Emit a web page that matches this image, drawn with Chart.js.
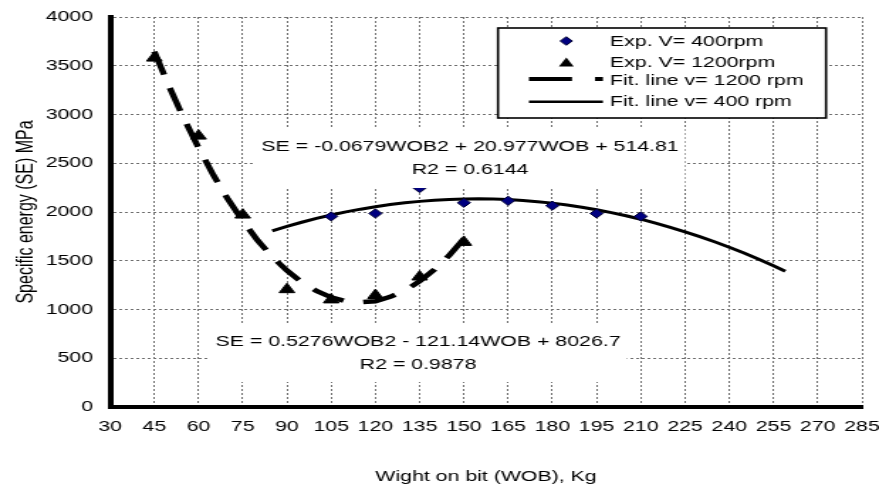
<!DOCTYPE html>
<html>
<head>
<meta charset="utf-8">
<script src="https://cdn.jsdelivr.net/npm/chart.js@4/dist/chart.umd.min.js"></script>
<style>
  html, body { margin: 0; padding: 0; background: #fff; overflow: hidden; }
  /* the chart is laid out narrow and widened sideways, like the original plot */
  #wrap { width: 619px; height: 498px; transform: scaleX(1.42); transform-origin: 0 0; }
</style>
</head>
<body>
<div id="wrap"><canvas id="c" width="619" height="498"></canvas></div>
<script>
// Measured specific energy (MPa) against weight on bit (kg)
const wob400 = [105, 120, 135, 150, 165, 180, 195, 210];
const se400  = [1955, 1985, 2245, 2095, 2115, 2065, 1985, 1955];

const wob1200 = [45, 60, 75, 90, 105, 120, 135, 150];
const se1200  = [3580, 2780, 1970, 1205, 1100, 1145, 1335, 1690];

// Trend lines
const fitWob1200 = [45, 50, 55, 60, 65, 70, 75, 80, 85, 90, 95, 100, 105, 110, 115, 120, 125, 130, 135, 140, 145, 150];
const fitSe1200  = [3645, 3290, 2960, 2660, 2380, 2130, 1910, 1710, 1540, 1400, 1280, 1190, 1125, 1085, 1075, 1085, 1130, 1195, 1290, 1410, 1555, 1725];

const fitWob400 = [85, 90, 95, 100, 105, 110, 115, 120, 125, 130, 135, 140, 145, 150, 155, 160, 165, 170, 175, 180,
                   185, 190, 195, 200, 205, 210, 215, 220, 225, 230, 235, 240, 245, 250, 255, 259];
const fitSe400  = [1807, 1853, 1895, 1934, 1969, 2001, 2029, 2054, 2076, 2094, 2109, 2121, 2129, 2134, 2135, 2133, 2127, 2119, 2106, 2091,
                   2072, 2049, 2023, 1994, 1962, 1926, 1886, 1843, 1797, 1748, 1695, 1638, 1579, 1515, 1449, 1393];

// Axis ranges
const xMin = 30, xMax = 285, xStep = 15;
const yMin = 0, yMax = 4000, yStep = 500;

// Texts
const legendLabels = ['Exp. V= 400rpm', 'Exp. V= 1200rpm', 'Fit. line v= 1200 rpm', 'Fit. line v= 400 rpm'];
const eq400  = ['SE = -0.0679WOB2 + 20.977WOB + 514.81', 'R2 = 0.6144'];
const eq1200 = ['SE = 0.5276WOB2 - 121.14WOB + 8026.7', 'R2 = 0.9878'];
const xTitle = 'Wight on bit (WOB), Kg';
const yTitle = 'Specific energy (SE) MPa';

const FONT = '"Liberation Sans", Arial, Helvetica, sans-serif';
const NAVY = '#000080';

const pts = (xs, ys) => xs.map((x, i) => ({ x: x, y: ys[i] }));

function diamond(ctx, x, y, r) {
  ctx.beginPath();
  ctx.moveTo(x, y - r); ctx.lineTo(x + r, y); ctx.lineTo(x, y + r); ctx.lineTo(x - r, y);
  ctx.closePath();
}
function triangle(ctx, x, y, r) {
  ctx.beginPath();
  ctx.moveTo(x, y - r);
  ctx.lineTo(x + r * 0.866, y + r * 0.5);
  ctx.lineTo(x - r * 0.866, y + r * 0.5);
  ctx.closePath();
}

// Equation labels on white boxes
function drawEquation(ctx, box, cx, baselines, lines) {
  ctx.save();
  ctx.fillStyle = '#fff';
  ctx.fillRect(box[0], box[1], box[2], box[3]);
  ctx.fillStyle = '#000';
  ctx.font = '15px ' + FONT;
  ctx.textAlign = 'center';
  ctx.textBaseline = 'alphabetic';
  lines.forEach((t, i) => ctx.fillText(t, cx, baselines[i]));
  ctx.restore();
}

const overlay = {
  id: 'overlay',
  afterDatasetsDraw(chart) {
    const ctx = chart.ctx;
    drawEquation(ctx, [179.6, 127, 302.8, 61], 331, [150.7, 174.3], eq400);
    drawEquation(ctx, [147.2, 323, 294.3, 59], 294.4, [346, 369.3], eq1200);

    // legend box
    ctx.save();
    ctx.fillStyle = '#fff';
    ctx.fillRect(350.7, 28, 231, 90);
    ctx.strokeStyle = '#000';
    ctx.lineWidth = 1.6;
    ctx.strokeRect(350.7, 28, 231, 90);

    const rows = [41, 62, 80.5, 101.7];
    const mx = 398.8;
    // diamond marker
    diamond(ctx, mx, rows[0], 4.3);
    ctx.fillStyle = NAVY; ctx.fill();
    ctx.lineWidth = 1; ctx.strokeStyle = '#000033'; ctx.stroke();
    // triangle marker
    triangle(ctx, mx, rows[1] + 1.5, 6);
    ctx.fillStyle = '#000'; ctx.fill();
    // dashed fit line sample
    ctx.strokeStyle = '#000';
    ctx.lineWidth = 4.2;
    ctx.lineCap = 'butt';
    ctx.beginPath();
    ctx.moveTo(372.5, rows[2] - 1.5); ctx.lineTo(402.8, rows[2] - 1.5);
    ctx.moveTo(419, rows[2] - 1.5); ctx.lineTo(424.6, rows[2] - 1.5);
    ctx.stroke();
    // solid fit line sample
    ctx.lineWidth = 2.6;
    ctx.beginPath();
    ctx.moveTo(372.5, rows[3]); ctx.lineTo(424.6, rows[3]);
    ctx.stroke();

    ctx.fillStyle = '#000';
    ctx.font = '15px ' + FONT;
    ctx.textAlign = 'left';
    ctx.textBaseline = 'middle';
    legendLabels.forEach((t, i) => ctx.fillText(t, 429.6, rows[i] + 0.5));
    ctx.restore();
  }
};

new Chart(document.getElementById('c'), {
  type: 'scatter',
  data: {
    datasets: [
      {
        label: legendLabels[0],
        data: pts(wob400, se400),
        pointStyle: 'rectRot',
        pointRadius: 4.6,
        pointBackgroundColor: NAVY,
        pointBorderColor: '#000033',
        pointBorderWidth: 1,
        showLine: false
      },
      {
        label: legendLabels[1],
        data: pts(wob1200, se1200),
        pointStyle: 'triangle',
        pointRadius: 6.3,
        pointBackgroundColor: '#000',
        pointBorderColor: '#000',
        pointBorderWidth: 1,
        showLine: false
      },
      {
        label: legendLabels[2],
        data: pts(fitWob1200, fitSe1200),
        showLine: true,
        pointRadius: 0,
        borderColor: '#000',
        borderWidth: 4.5,
        borderDash: [24, 14],
        borderCapStyle: 'butt',
        tension: 0
      },
      {
        label: legendLabels[3],
        data: pts(fitWob400, fitSe400),
        showLine: true,
        pointRadius: 0,
        borderColor: '#000',
        borderWidth: 3,
        tension: 0
      }
    ]
  },
  options: {
    responsive: false,
    animation: false,
    devicePixelRatio: 1,
    layout: { padding: { top: 17, right: 12, bottom: 0, left: 0 } },
    plugins: { legend: { display: false }, tooltip: { enabled: false } },
    scales: {
      x: {
        type: 'linear',
        min: xMin, max: xMax,
        ticks: { stepSize: xStep, padding: 11, color: '#000', font: { family: FONT, size: 15 }, maxRotation: 0,
                 callback: v => String(v) },
        grid: { color: '#6f6f6f', lineWidth: 1, drawTicks: false },
        border: { display: true, color: '#000', width: 4, dash: [2, 2] },
        title: { display: true, text: xTitle, color: '#000', font: { family: FONT, size: 15 }, padding: { top: 0, bottom: 12 } },
        afterFit(scale) { scale.height = 91; scale.paddingLeft = 0; scale.paddingRight = 0; }
      },
      y: {
        min: yMin, max: yMax,
        ticks: { stepSize: yStep, padding: 12, color: '#000', font: { family: FONT, size: 15 },
                 callback: v => String(v) },
        grid: { color: '#6f6f6f', lineWidth: 1, drawTicks: false },
        border: { display: true, color: '#000', width: 4, dash: [2, 2] },
        title: { display: true, text: yTitle, color: '#000', font: { family: FONT, size: 16 }, padding: { top: 9, bottom: 0 } },
        afterFit(scale) { scale.width = 77.5; scale.paddingTop = 0; scale.paddingBottom = 0; }
      }
    }
  },
  plugins: [overlay]
});
</script>
</body>
</html>
